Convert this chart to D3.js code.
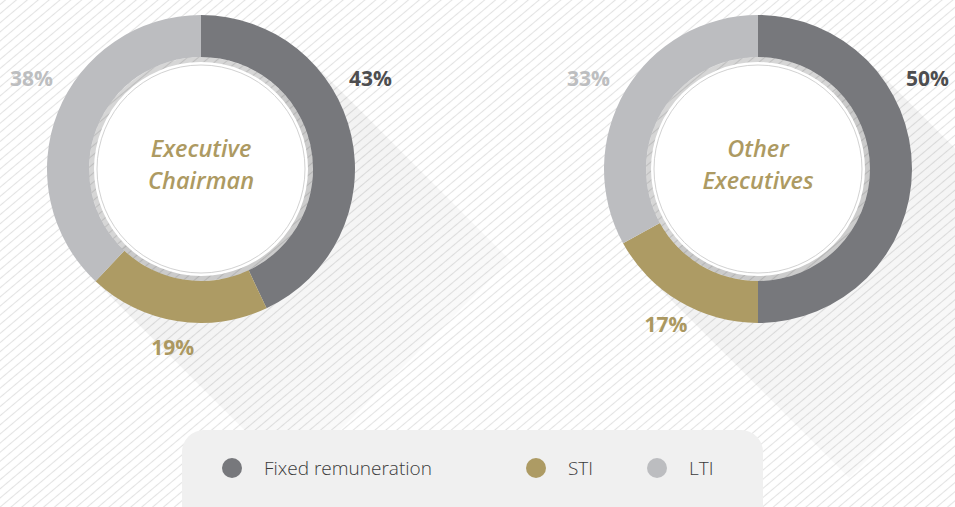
<!DOCTYPE html>
<html>
<head>
<meta charset="utf-8">
<script src="https://cdn.jsdelivr.net/npm/d3@7"></script>
<style>
  body { margin: 0; background: #fff; }
  svg { display: block; }
</style>
</head>
<body>
<script>
// data
var groups = ["Executive Chairman", "Other Executives"];
var groupLines = [["Executive", "Chairman"], ["Other", "Executives"]];
var categories = ["Fixed remuneration", "STI", "LTI"];
var fixedValues = [43, 50];
var stiValues = [19, 17];
var ltiValues = [38, 33];

var colors = ["#77787c", "#ad9b64", "#bcbdc0"];
var labelColors = ["#4e4e50", "#ab9861", "#bdbec0"];

var width = 955, height = 507;
var outerR = 154, innerR = 112;

var svg = d3.select("body").append("svg")
  .attr("width", width)
  .attr("height", height);

var defs = svg.append("defs");

// diagonal hatching
var pat = defs.append("pattern")
  .attr("id", "hatch")
  .attr("patternUnits", "userSpaceOnUse")
  .attr("width", 7).attr("height", 7)
  .attr("patternTransform", "rotate(-40)");
pat.append("line")
  .attr("x1", 0).attr("y1", 3.5).attr("x2", 7).attr("y2", 3.5)
  .attr("stroke", "#e3e3e3").attr("stroke-width", 1.1);

// long shadow fade
var grad = defs.append("linearGradient")
  .attr("id", "shadowGrad")
  .attr("x1", "0").attr("y1", "0").attr("x2", "1").attr("y2", "1");
grad.append("stop").attr("offset", "0%").attr("stop-color", "#000").attr("stop-opacity", 0.08);
grad.append("stop").attr("offset", "50%").attr("stop-color", "#000").attr("stop-opacity", 0.04);
grad.append("stop").attr("offset", "100%").attr("stop-color", "#000").attr("stop-opacity", 0);

svg.append("rect")
  .attr("width", width).attr("height", height)
  .attr("fill", "url(#hatch)");

var x = d3.scalePoint().domain(groups).range([201, 758]);
var cy = 169;

var pie = d3.pie().sort(null).value(function (d) { return d; });
var arc = d3.arc().innerRadius(innerR).outerRadius(outerR);
var labelArc = d3.arc().innerRadius(181).outerRadius(181);

var labelFont = "'Open Sans', sans-serif";

groups.forEach(function (g, i) {
  var values = [fixedValues[i], stiValues[i], ltiValues[i]];
  var cx = x(g);
  var chart = svg.append("g").attr("transform", "translate(" + cx + "," + cy + ")");

  // long shadow toward bottom-right
  var k = outerR / Math.SQRT2;
  var len = 200;
  chart.append("path")
    .attr("d", "M" + k + "," + (-k) +
      " L" + (k + len) + "," + (-k + len) +
      " L" + (-k + len) + "," + (k + len) +
      " L" + (-k) + "," + k + " Z")
    .attr("fill", "url(#shadowGrad)");

  var arcs = pie(values);
  chart.selectAll("path.slice")
    .data(arcs)
    .enter().append("path")
    .attr("class", "slice")
    .attr("d", arc)
    .attr("fill", function (d, j) { return colors[j]; });

  // inner shade + white disc
  chart.append("circle").attr("r", innerR).attr("fill", "#000").attr("opacity", 0.16);
  chart.append("circle").attr("r", innerR - 5).attr("fill", "#fff");
  chart.append("circle").attr("r", innerR - 8).attr("fill", "none")
    .attr("stroke", "#d2d2d2").attr("stroke-width", 1);

  // centre title
  var t = chart.append("text")
    .attr("text-anchor", "middle")
    .attr("fill", "#ad9a62")
    .attr("font-family", labelFont)
    .attr("font-style", "italic")
    .attr("font-weight", 600)
    .attr("font-size", 23.5);
  groupLines[i].forEach(function (line, j) {
    t.append("tspan").attr("x", 0).attr("y", -12 + j * 32).text(line);
  });

  // percentage labels
  arcs.forEach(function (d, j) {
    var pos;
    if (j === 1) {
      pos = labelArc.centroid(d);
    } else {
      var a = (j === 0 ? 62 : -62) * Math.PI / 180;
      pos = [192 * Math.sin(a), -192 * Math.cos(a)];
    }
    chart.append("text")
      .attr("x", pos[0]).attr("y", pos[1])
      .attr("dy", "0.36em")
      .attr("text-anchor", "middle")
      .attr("fill", labelColors[j])
      .attr("font-family", labelFont)
      .attr("font-weight", "bold")
      .attr("font-size", 21)
      .text(d.data + "%");
  });
});

// legend
var legend = svg.append("g");
legend.append("rect")
  .attr("x", 182).attr("y", 430)
  .attr("width", 581).attr("height", 110)
  .attr("rx", 22)
  .attr("fill", "#f0f0f0");

var legendX = [232, 536, 657];
categories.forEach(function (c, i) {
  legend.append("circle")
    .attr("cx", legendX[i]).attr("cy", 468)
    .attr("r", 10)
    .attr("fill", colors[i]);
  legend.append("text")
    .attr("x", legendX[i] + 32).attr("y", 468)
    .attr("dy", "0.35em")
    .attr("fill", "#3a3a3a")
    .attr("font-family", "'Open Sans', sans-serif")
    .attr("font-weight", 300)
    .attr("font-size", 19)
    .text(c);
});
</script>
</body>
</html>
